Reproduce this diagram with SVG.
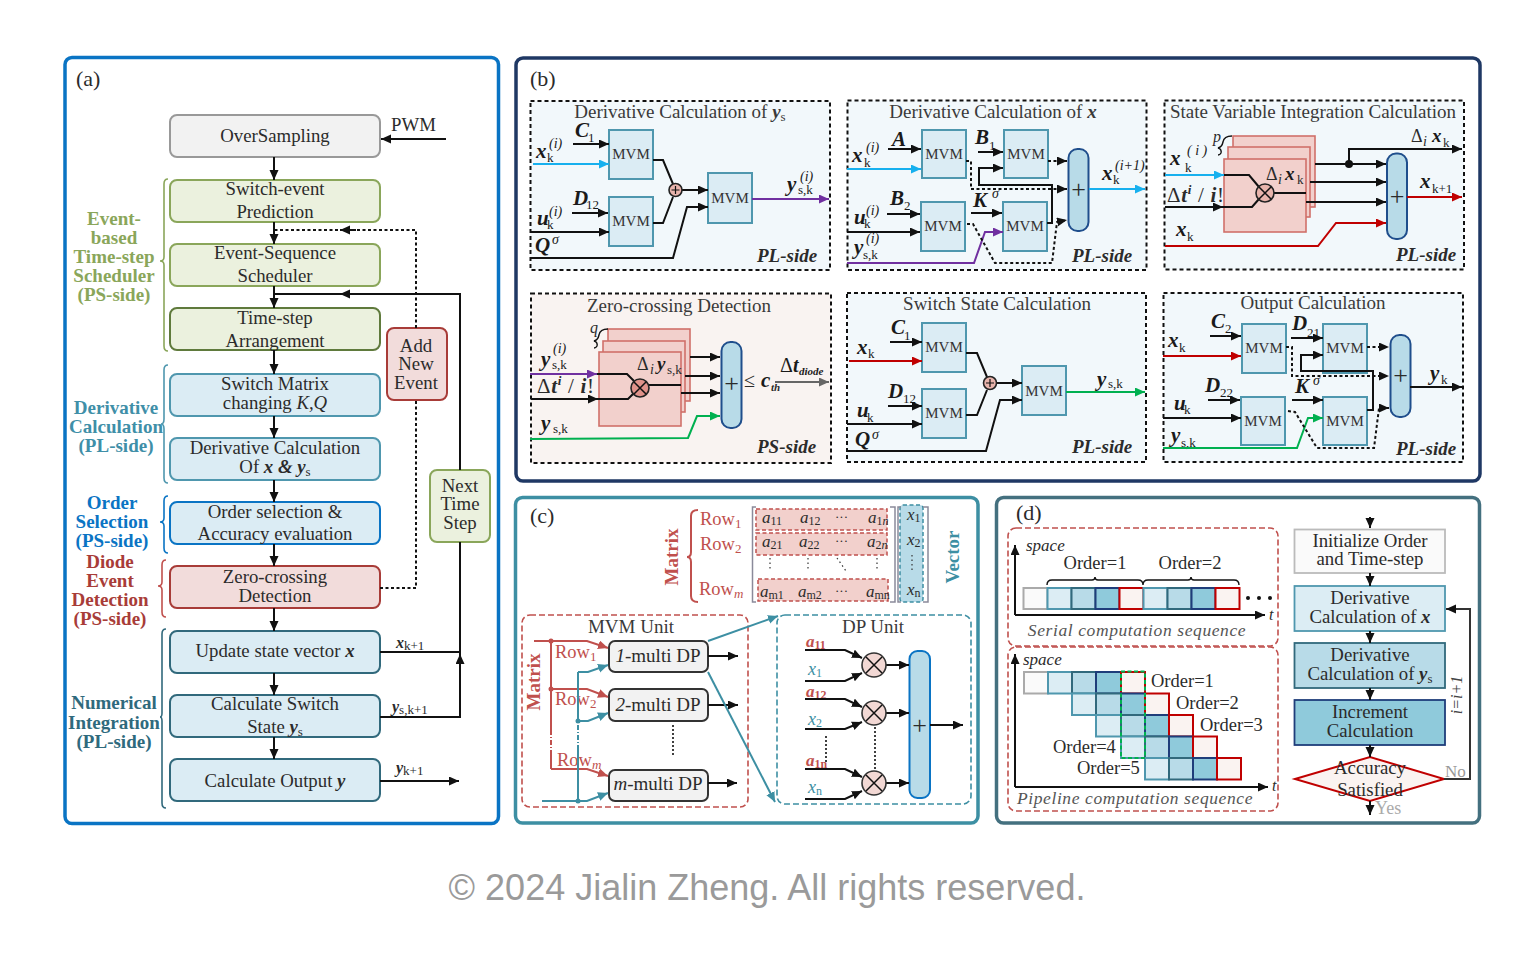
<svg xmlns="http://www.w3.org/2000/svg" width="1536" height="960" viewBox="0 0 1536 960">
<style>
text{font-family:"Liberation Serif","Times New Roman",serif;fill:#2b2b2b;font-size:18.800px}
.c{text-anchor:middle}
.bi{font-weight:bold;font-style:italic}
.i{font-style:italic}
.v{font-weight:bold;font-style:italic;font-size:21px;fill:#1a1a1a}
.s{font-weight:normal;font-style:normal;font-size:13px}
.u{font-weight:normal;font-style:italic;font-size:14px}
.sm{font-size:11px;font-weight:bold;font-style:italic}
.side{font-weight:bold;font-style:italic;font-size:19px}
.title{font-size:19px;text-anchor:middle;fill:#3a3a3a}
.mv{font-size:15px;text-anchor:middle;fill:#333}
.lab{font-weight:bold;font-size:19px;text-anchor:middle}
.plus{font-size:26px;text-anchor:middle}
.panel{fill:#fff;stroke-width:3.5}
.sub{stroke:#111;stroke-width:2;stroke-dasharray:4 3;fill:#f2f8fb}
.subr{stroke:#111;stroke-width:2;stroke-dasharray:4 3;fill:#f9f3f1}
.box{stroke-width:2}
.gr{fill:#f2f2f2;stroke:#999}
.gn{fill:#ebf1de;stroke:#8aa65a}
.gd{fill:#ebf1de;stroke:#5f7a3c}
.bl{fill:#dbecf4;stroke:#4f97ae}
.bo{fill:#dbecf4;stroke:#0a74c4}
.bn{fill:#dbecf4;stroke:#31697c}
.rd{fill:#f2dcdb;stroke:#a83c38}
.mvm{fill:#dbecf4;stroke:#4f97ae;stroke-width:2}
.pl{fill:#b8dbe8;stroke:#1f4e8c;stroke-width:2}
.st{fill:#f2d0cc;stroke:#d0706a;stroke-width:1.6}
.tn{fill:#e8b4ac;stroke:#222;stroke-width:1.6}
.k{fill:none;stroke:#111;stroke-width:2;marker-end:url(#a)}
.kn{fill:none;stroke:#111;stroke-width:2}
.dk{fill:none;stroke:#111;stroke-width:2;stroke-dasharray:3 2.5}
.dke{fill:none;stroke:#111;stroke-width:2;stroke-dasharray:3 2.5;marker-end:url(#a)}
.cy{fill:none;stroke:#17b0ee;stroke-width:2;marker-end:url(#ac)}
.pu{fill:none;stroke:#7030a0;stroke-width:2;marker-end:url(#ap)}
.re{fill:none;stroke:#c00000;stroke-width:2;marker-end:url(#ar)}
.ge{fill:none;stroke:#00b050;stroke-width:2;marker-end:url(#ag)}
.te{fill:none;stroke:#3d8fa3;stroke-width:2;marker-end:url(#at)}
.tn2{fill:none;stroke:#3d8fa3;stroke-width:2}
.sa{fill:none;stroke:#c0504d;stroke-width:2;marker-end:url(#as)}
.sn{fill:none;stroke:#c0504d;stroke-width:2}
.brace{fill:none;stroke-width:1.6}
.cl{stroke-width:2}
.c0{fill:#fafafa;stroke:#aaa}
.c1{fill:#dcedf4;stroke:#4f97ae}
.c2{fill:#b8dbe8;stroke:#31697c}
.c3{fill:#8fcadb;stroke:#1f3d7a}
.c4{fill:#faf3f1;stroke:#c00000}
.row{fill:#f2d0cc;stroke:#c0504d;stroke-width:1.5;stroke-dasharray:4 2.5}
.sl{fill:#c0504d;font-size:18.500px}
.dp{fill:#f2f2f2;stroke:#333;stroke-width:2}
.ds{fill:#f2d8d4;stroke:#333;stroke-width:1.6}
.ord{font-size:18.500px}
.m{font-style:italic;font-size:17px}
.ms{font-style:normal;font-size:12px}
.seq{font-style:italic;font-size:17.500px;fill:#555;letter-spacing:.6px;text-anchor:middle}
.dt{font-size:21px;letter-spacing:.7px}
.pn{font-size:22px}
</style>
<defs>
<marker id="a" markerUnits="userSpaceOnUse" markerWidth="11" markerHeight="10" refX="10" refY="4.5" orient="auto"><path d="M0 0L10 4.5L0 9z" fill="#111"/></marker>
<marker id="ac" markerUnits="userSpaceOnUse" markerWidth="11" markerHeight="10" refX="10" refY="4.5" orient="auto"><path d="M0 0L10 4.5L0 9z" fill="#17b0ee"/></marker>
<marker id="ap" markerUnits="userSpaceOnUse" markerWidth="11" markerHeight="10" refX="10" refY="4.5" orient="auto"><path d="M0 0L10 4.5L0 9z" fill="#7030a0"/></marker>
<marker id="ar" markerUnits="userSpaceOnUse" markerWidth="11" markerHeight="10" refX="10" refY="4.5" orient="auto"><path d="M0 0L10 4.5L0 9z" fill="#c00000"/></marker>
<marker id="ag" markerUnits="userSpaceOnUse" markerWidth="11" markerHeight="10" refX="10" refY="4.5" orient="auto"><path d="M0 0L10 4.5L0 9z" fill="#00b050"/></marker>
<marker id="at" markerUnits="userSpaceOnUse" markerWidth="11" markerHeight="10" refX="10" refY="4.5" orient="auto"><path d="M0 0L10 4.5L0 9z" fill="#3d8fa3"/></marker>
<marker id="as" markerUnits="userSpaceOnUse" markerWidth="11" markerHeight="10" refX="10" refY="4.5" orient="auto"><path d="M0 0L10 4.5L0 9z" fill="#c0504d"/></marker>
<marker id="ah" markerUnits="userSpaceOnUse" markerWidth="11" markerHeight="10" refX="10" refY="4.5" orient="auto"><path d="M0 0L10 4.5L0 9z" fill="#666"/></marker>
</defs>
<rect width="1536" height="960" fill="#fff"/>

<!-- panel frames -->
<rect class="panel" x="65" y="57.500" width="433.500" height="766" rx="7" stroke="#0a74c4"/>
<rect class="panel" x="516" y="58" width="964" height="423" rx="7" stroke="#1f3864"/>
<rect class="panel" x="515.500" y="497.500" width="462.500" height="325.500" rx="7" stroke="#3d8fa3"/>
<rect class="panel" x="996.500" y="497.500" width="483" height="325.500" rx="7" stroke="#44707f"/>
<text class="pn" x="76" y="86">(a)</text>
<text class="pn" x="530" y="86">(b)</text>
<text class="pn" x="530" y="523">(c)</text>
<text class="pn" x="1016" y="520">(d)</text>

<!-- (a) flow chart -->
<g id="a-oversampling"><rect class="box gr" x="170" y="115" width="210" height="42" rx="7"/><text class="c" x="275" y="142">OverSampling</text></g>
<g id="a-switch-event"><rect class="box gn" x="170" y="180" width="210" height="42" rx="7"/><text class="c" x="275" y="195">Switch-event</text><text class="c" x="275" y="218">Prediction</text></g>
<g id="a-scheduler"><rect class="box gn" x="170" y="244" width="210" height="42" rx="7"/><text class="c" x="275" y="259">Event-Sequence</text><text class="c" x="275" y="282">Scheduler</text></g>
<g id="a-arrangement"><rect class="box gd" x="170" y="308" width="210" height="42" rx="7"/><text class="c" x="275" y="324">Time-step</text><text class="c" x="275" y="347">Arrangement</text></g>
<g id="a-switch-matrix"><rect class="box bl" x="170" y="374" width="210" height="42" rx="7"/><text class="c" x="275" y="390">Switch Matrix</text><text class="c" x="275" y="409">changing <tspan class="i">K,Q</tspan></text></g>
<g id="a-derivative"><rect class="box bl" x="170" y="438" width="210" height="42" rx="7"/><text class="c" x="275" y="454">Derivative Calculation</text><text class="c" x="275" y="473">Of <tspan class="bi">x &amp; y</tspan><tspan class="s" dy="3" font-weight="bold">s</tspan></text></g>
<g id="a-order"><rect class="box bo" x="170" y="502" width="210" height="42" rx="7"/><text class="c" x="275" y="518">Order selection &amp;</text><text class="c" x="275" y="540">Accuracy evaluation</text></g>
<g id="a-zero"><rect class="box rd" x="170" y="566" width="210" height="42" rx="7"/><text class="c" x="275" y="583">Zero-crossing</text><text class="c" x="275" y="602">Detection</text></g>
<g id="a-update"><rect class="box bn" x="170" y="631" width="210" height="42" rx="7"/><text class="c" x="275" y="657">Update state vector <tspan class="bi">x</tspan></text></g>
<g id="a-switch-state"><rect class="box bn" x="170" y="695" width="210" height="42" rx="7"/><text class="c" x="275" y="710">Calculate Switch</text><text class="c" x="275" y="733">State <tspan class="bi">y</tspan><tspan class="s" dy="3" font-weight="bold">s</tspan></text></g>
<g id="a-output"><rect class="box bn" x="170" y="759" width="210" height="42" rx="7"/><text class="c" x="275" y="787">Calculate Output <tspan class="bi">y</tspan></text></g>
<g id="a-add-event"><rect class="box rd" x="387" y="328" width="60" height="72" rx="7"/><text class="c" x="416" y="352">Add</text><text class="c" x="416" y="370">New</text><text class="c" x="416" y="389">Event</text></g>
<g id="a-next-step"><rect class="box gn" x="430" y="470" width="60" height="72" rx="7"/><text class="c" x="460" y="492">Next</text><text class="c" x="460" y="510">Time</text><text class="c" x="460" y="529">Step</text></g>
<g id="a-groups">
<path class="brace" stroke="#8aa65a" d="M168 179Q164 179 164 184V257Q164 261 160 261Q164 261 164 265V346Q164 351 168 351"/>
<path class="brace" stroke="#4f97ae" d="M168 365Q164 365 164 370V419Q164 424 161 424Q164 424 164 429V478Q164 483 168 483"/>
<path class="brace" stroke="#0a74c4" d="M168 496Q164 496 164 501V518Q164 522 160 522Q164 522 164 526V548Q164 553 168 553"/>
<path class="brace" stroke="#c0504d" d="M166 560Q162 560 162 565V582Q162 586 158 586Q162 586 162 590V612Q162 617 166 617"/>
<path class="brace" stroke="#31697c" d="M166 629Q162 629 162 634V713Q162 717 160 717Q162 717 162 721V803Q162 808 166 808"/>
<text class="lab" x="114" y="225" style="fill:#8aa65a">Event-</text><text class="lab" x="114" y="244" style="fill:#8aa65a">based</text><text class="lab" x="114" y="263" style="fill:#8aa65a">Time-step</text><text class="lab" x="114" y="282" style="fill:#8aa65a">Scheduler</text><text class="lab" x="114" y="301" style="fill:#8aa65a">(PS-side)</text>
<text class="lab" x="116" y="414" style="fill:#3f8fa8">Derivative</text><text class="lab" x="116" y="433" style="fill:#3f8fa8">Calculation</text><text class="lab" x="116" y="452" style="fill:#3f8fa8">(PL-side)</text>
<text class="lab" x="112" y="509" style="fill:#0a74c4">Order</text><text class="lab" x="112" y="528" style="fill:#0a74c4">Selection</text><text class="lab" x="112" y="547" style="fill:#0a74c4">(PS-side)</text>
<text class="lab" x="110" y="568" style="fill:#a83c38">Diode</text><text class="lab" x="110" y="587" style="fill:#a83c38">Event</text><text class="lab" x="110" y="606" style="fill:#a83c38">Detection</text><text class="lab" x="110" y="625" style="fill:#a83c38">(PS-side)</text>
<text class="lab" x="114" y="709" style="fill:#2f6a7d">Numerical</text><text class="lab" x="114" y="729" style="fill:#2f6a7d">Integration</text><text class="lab" x="114" y="748" style="fill:#2f6a7d">(PL-side)</text>
<text x="391" y="131">PWM</text>
<text x="396" y="648" class="bi" style="font-size:16px">x<tspan class="s" dy="2">k+1</tspan></text>
<text x="392" y="712" class="bi" style="font-size:16px">y<tspan class="s" dy="2">s,k+1</tspan></text>
<text x="396" y="773" class="bi" style="font-size:16px">y<tspan class="s" dy="2">k+1</tspan></text>
</g>

<!-- (b) sub-panels -->
<g id="b-deriv-ys">
<rect class="sub" x="530.500" y="101" width="299.500" height="169"/>
<text class="title" x="680" y="118">Derivative Calculation of <tspan class="bi">y</tspan><tspan class="s" dy="3" font-weight="bold">s</tspan></text>
<rect class="mvm" x="609" y="130" width="44" height="49"/><text class="mv" x="631" y="159">MVM</text>
<rect class="mvm" x="609" y="197" width="44" height="49"/><text class="mv" x="631" y="226">MVM</text>
<rect class="mvm" x="708" y="173" width="44" height="50"/><text class="mv" x="730" y="203">MVM</text>
<text class="side" x="757" y="262">PL-side</text>
<text class="v" x="575" y="137">C<tspan class="s" x="588" y="142">1</tspan></text>
<text class="v" x="536" y="158">x<tspan class="s" x="547" y="162">k</tspan><tspan class="u" x="549" y="148">(i)</tspan></text>
<text class="v" x="573" y="205">D<tspan class="s" x="586" y="209">12</tspan></text>
<text class="v" x="537" y="225">u<tspan class="s" x="547" y="229">k</tspan><tspan class="u" x="549" y="216">(i)</tspan></text>
<text class="v" x="535" y="252">Q<tspan class="u" x="552" y="244">σ</tspan></text>
<text class="v" x="787" y="191">y<tspan class="s" x="798" y="194">s,k</tspan><tspan class="u" x="800" y="181">(i)</tspan></text>
</g>
<g id="b-deriv-x">
<rect class="sub" x="847.500" y="100.500" width="299" height="169.500"/>
<text class="title" x="993" y="118">Derivative Calculation of <tspan class="bi">x</tspan></text>
<rect class="mvm" x="922" y="130" width="44" height="48"/><text class="mv" x="944" y="159">MVM</text>
<rect class="mvm" x="1004" y="130" width="44" height="48"/><text class="mv" x="1026" y="159">MVM</text>
<rect class="mvm" x="921" y="202" width="44" height="49"/><text class="mv" x="943" y="231">MVM</text>
<rect class="mvm" x="1003" y="202" width="44" height="49"/><text class="mv" x="1025" y="231">MVM</text>
<rect class="pl" x="1068.500" y="149" width="20" height="82" rx="9"/><text class="plus" x="1078.500" y="198">+</text>
<text class="side" x="1072" y="262">PL-side</text>
<text class="v" x="852" y="162">x<tspan class="s" x="864" y="167">k</tspan><tspan class="u" x="866" y="152">(i)</tspan></text>
<text class="v" x="892" y="146">A</text>
<text class="v" x="975" y="144">B<tspan class="s" x="989" y="150">1</tspan></text>
<text class="v" x="890" y="205">B<tspan class="s" x="904" y="210">2</tspan></text>
<text class="v" x="854" y="224">u<tspan class="s" x="864" y="228">k</tspan><tspan class="u" x="866" y="215">(i)</tspan></text>
<text class="v" x="854" y="254">y<tspan class="s" x="863" y="259">s,k</tspan><tspan class="u" x="866" y="243">(i)</tspan></text>
<text class="v" x="973" y="207">K<tspan class="u" x="992" y="198">σ</tspan></text>
<text class="v" x="1102" y="180">x<tspan class="s" x="1113" y="184">k</tspan><tspan class="u" x="1115" y="170">(i+1)</tspan></text>
</g>
<g id="b-integration">
<rect class="sub" x="1164.500" y="100.500" width="299.500" height="169"/>
<text class="title" x="1313" y="118">State Variable Integration Calculation</text>
<rect class="st" x="1233" y="136" width="82" height="71"/><rect class="st" x="1228" y="147" width="82" height="70"/><rect class="st" x="1224" y="159" width="82" height="73"/>
<path class="kn" style="stroke-width:1.4" d="M1232 136Q1224 136 1223 142Q1222 147 1218 148Q1222 149 1221 153Q1220 155 1218 155"/>
<text class="i" x="1213" y="142" style="font-size:16px">p</text>
<rect class="pl" x="1387" y="153.500" width="20" height="85.500" rx="9"/><text class="plus" x="1397" y="205">+</text>
<text class="side" x="1396" y="261">PL-side</text>
<text class="v" x="1170" y="165">x<tspan class="s" x="1185" y="172">k</tspan><tspan class="u" x="1187" y="155">( i )</tspan></text>
<text class="dt" x="1167" y="202">Δ<tspan class="bi">t</tspan><tspan class="bi" style="font-size:13px" dy="-8">i</tspan><tspan dy="8"> / </tspan><tspan class="bi">i</tspan>!</text>
<text x="1266" y="180" style="font-size:18px">Δ<tspan class="u" x="1278" y="184">i</tspan><tspan class="v" style="font-size:19px" x="1285" y="180">x</tspan><tspan class="s" x="1297" y="184">k</tspan></text>
<text x="1411" y="142" style="font-size:18px">Δ<tspan class="u" x="1423" y="146">i</tspan><tspan class="v" style="font-size:19px" x="1432" y="142">x</tspan><tspan class="s" x="1443" y="147">k</tspan></text>
<text class="v" x="1420" y="188">x<tspan class="s" x="1432" y="193">k+1</tspan></text>
<text class="v" x="1176" y="236">x<tspan class="s" x="1187" y="241">k</tspan></text>
</g>
<g id="b-zero">
<rect class="subr" x="531" y="293.500" width="300" height="169.500"/>
<text class="title" x="679" y="312">Zero-crossing Detection</text>
<rect class="st" x="608" y="329" width="82" height="72"/><rect class="st" x="603" y="341" width="82" height="71"/><rect class="st" x="599" y="352" width="82" height="74"/>
<path class="kn" style="stroke-width:1.4" d="M608 329Q600 329 599 335Q598 340 594 341Q598 342 597 346Q596 348 594 348"/>
<text class="i" x="590" y="333" style="font-size:16px">q</text>
<rect class="pl" x="721.500" y="342" width="20" height="86" rx="9"/><text class="plus" x="731.500" y="392">+</text>
<text class="side" x="757" y="453">PS-side</text>
<text class="v" x="541" y="366">y<tspan class="s" x="552" y="369">s,k</tspan><tspan class="u" x="553" y="353">(i)</tspan></text>
<text class="dt" x="537" y="393">Δ<tspan class="bi">t</tspan><tspan class="bi" style="font-size:13px" dy="-8">i</tspan><tspan dy="8"> / </tspan><tspan class="bi">i</tspan>!</text>
<text x="637" y="370" style="font-size:18px">Δ<tspan class="u" x="650" y="374">i</tspan><tspan class="v" style="font-size:19px" x="657" y="370">y</tspan><tspan class="s" x="667" y="374">s,k</tspan></text>
<text class="v" x="541" y="430">y<tspan class="s" x="553" y="433">s,k</tspan></text>
<text x="744" y="387" style="font-size:20px">≤<tspan class="v" x="761" y="387">c</tspan><tspan class="s" x="771" y="391" style="font-weight:bold;font-style:italic;font-size:11px">th</tspan></text>
<text class="v" x="780" y="372" style="font-size:20px"><tspan style="font-weight:normal;font-style:normal">Δ</tspan>t<tspan class="sm" x="799" y="375">diode</tspan></text>
</g>
<g id="b-switch-state">
<rect class="sub" x="847" y="293" width="299" height="169"/>
<text class="title" x="997" y="310">Switch State Calculation</text>
<rect class="mvm" x="922" y="323" width="44" height="49"/><text class="mv" x="944" y="352">MVM</text>
<rect class="mvm" x="922" y="389" width="44" height="49"/><text class="mv" x="944" y="418">MVM</text>
<rect class="mvm" x="1022" y="366" width="44" height="49"/><text class="mv" x="1044" y="396">MVM</text>
<text class="side" x="1072" y="453">PL-side</text>
<text class="v" x="891" y="334">C<tspan class="s" x="904" y="340">1</tspan></text>
<text class="v" x="857" y="354">x<tspan class="s" x="868" y="358">k</tspan></text>
<text class="v" x="888" y="398">D<tspan class="s" x="903" y="403">12</tspan></text>
<text class="v" x="857" y="417">u<tspan class="s" x="867" y="422">k</tspan></text>
<text class="v" x="855" y="446">Q<tspan class="u" x="872" y="439">σ</tspan></text>
<text class="v" x="1097" y="386">y<tspan class="s" x="1108" y="388">s,k</tspan></text>
</g>
<g id="b-output">
<rect class="sub" x="1163.500" y="293" width="299.500" height="169"/>
<text class="title" x="1313" y="309">Output Calculation</text>
<rect class="mvm" x="1242" y="324" width="44" height="49"/><text class="mv" x="1264" y="353">MVM</text>
<rect class="mvm" x="1323" y="324" width="44" height="49"/><text class="mv" x="1345" y="353">MVM</text>
<rect class="mvm" x="1241" y="397" width="44" height="48"/><text class="mv" x="1263" y="426">MVM</text>
<rect class="mvm" x="1323" y="397" width="44" height="48"/><text class="mv" x="1345" y="426">MVM</text>
<rect class="pl" x="1390.500" y="335" width="20" height="82" rx="9"/><text class="plus" x="1400.500" y="384">+</text>
<text class="side" x="1396" y="455">PL-side</text>
<text class="v" x="1211" y="328">C<tspan class="s" x="1225" y="333">2</tspan></text>
<text class="v" x="1168" y="347">x<tspan class="s" x="1179" y="352">k</tspan></text>
<text class="v" x="1292" y="330">D<tspan class="s" x="1307" y="337">21</tspan></text>
<text class="v" x="1205" y="392">D<tspan class="s" x="1220" y="397">22</tspan></text>
<text class="v" x="1174" y="410">u<tspan class="s" x="1184" y="414">k</tspan></text>
<text class="v" x="1295" y="393">K<tspan class="u" x="1313" y="385">σ</tspan></text>
<text class="v" x="1171" y="442">y<tspan class="s" x="1181" y="447">s,k</tspan></text>
<text class="v" x="1430" y="380">y<tspan class="s" x="1441" y="384">k</tspan></text>
</g>

<!-- (c) matrix and vector -->
<g id="c-matrix">
<rect class="row" x="756" y="509" width="131" height="21"/>
<rect class="row" x="756" y="533" width="131" height="22"/>
<rect class="row" x="758" y="579" width="130" height="22"/>
<path fill="none" stroke="#8a8a9a" stroke-width="1.5" d="M756 507H752.500V602H756M890 507H895V602H890"/>
<path class="brace" stroke="#c0504d" style="stroke-width:2" d="M698 510Q691 510 691 516V552Q691 557 687 557Q691 557 691 562V596Q691 602 698 602"/>
<text class="sl" x="700" y="525">Row<tspan class="s" dy="3">1</tspan></text>
<text class="sl" x="700" y="550">Row<tspan class="s" dy="3">2</tspan></text>
<text class="sl" x="699" y="595">Row<tspan class="s" dy="3" style="font-style:italic">m</tspan></text>
<text class="lab" transform="translate(678 557) rotate(-90)" style="fill:#c0504d">Matrix</text>
<text class="m" x="762" y="523">a<tspan class="ms" dy="2">11</tspan></text>
<text class="m" x="800" y="523">a<tspan class="ms" dy="2">12</tspan></text>
<text x="835" y="521" style="font-size:13px">···</text>
<text class="m" x="868" y="523">a<tspan class="ms" dy="2">1<tspan class="i">n</tspan></tspan></text>
<text class="m" x="762" y="547">a<tspan class="ms" dy="2">21</tspan></text>
<text class="m" x="799" y="547">a<tspan class="ms" dy="2">22</tspan></text>
<text x="835" y="545" style="font-size:13px">···</text>
<text class="m" x="867" y="547">a<tspan class="ms" dy="2">2<tspan class="i">n</tspan></tspan></text>
<text class="m" x="760" y="597">a<tspan class="ms" dy="2">m1</tspan></text>
<text class="m" x="798" y="597">a<tspan class="ms" dy="2">m2</tspan></text>
<text x="835" y="595" style="font-size:13px">···</text>
<text class="m" x="866" y="597">a<tspan class="ms" dy="2">mn</tspan></text>
<path fill="none" stroke="#333" stroke-width="1.2" stroke-dasharray="1.5 3" d="M770 558V571M808 558V571M877 558V571M837 558L846 571"/>
</g>
<g id="c-vector">
<rect x="900" y="505" width="23" height="97" rx="3" fill="#b8dbe8" stroke="#3d8fa3" stroke-width="1.5" stroke-dasharray="4 2.500"/>
<path fill="none" stroke="#8a8a9a" stroke-width="1.5" d="M901 507H898V602H901M923 507H928V602H923"/>
<text class="m" x="907" y="520">x<tspan class="ms" dy="2">1</tspan></text>
<text class="m" x="907" y="545">x<tspan class="ms" dy="2">2</tspan></text>
<text class="m" x="907" y="595">x<tspan class="ms" dy="2">n</tspan></text>
<path fill="none" stroke="#333" stroke-width="1.2" stroke-dasharray="1.5 3" d="M912 555V571"/>
<text class="lab" transform="translate(959 557) rotate(-90)" style="fill:#3d8fa3">Vector</text>
</g>
<g id="c-mvm-unit">
<rect x="522" y="615" width="226" height="192" rx="8" fill="none" stroke="#c0504d" stroke-width="1.6" stroke-dasharray="6 3"/>
<text class="title" x="631" y="633">MVM Unit</text>
<text class="lab" transform="translate(540 682) rotate(-90)" style="fill:#c0504d">Matrix</text>
<rect class="dp" x="609" y="641" width="99" height="31" rx="6"/><text class="c" x="658" y="662" style="font-size:19px"><tspan class="i">1</tspan>-multi DP</text>
<rect class="dp" x="609" y="689" width="99" height="32" rx="6"/><text class="c" x="658" y="711" style="font-size:19px"><tspan class="i">2</tspan>-multi DP</text>
<rect class="dp" x="609" y="770" width="99" height="31" rx="6"/><text class="c" x="658" y="790" style="font-size:19px"><tspan class="i">m</tspan>-multi DP</text>
<text class="sl" x="555" y="658">Row<tspan class="s" dy="3">1</tspan></text>
<text class="sl" x="555" y="705">Row<tspan class="s" dy="3">2</tspan></text>
<text class="sl" x="557" y="766">Row<tspan class="s" dy="3" style="font-style:italic">m</tspan></text>
</g>
<g id="c-dp-unit">
<rect x="777" y="615" width="194" height="189" rx="8" fill="none" stroke="#3d8fa3" stroke-width="1.6" stroke-dasharray="6 3"/>
<text class="title" x="873" y="633">DP Unit</text>
<text class="bi" x="806" y="647" style="fill:#c0504d;font-size:17px">a<tspan class="s" dy="2" style="font-size:12px;font-weight:bold">11</tspan></text>
<text class="i" x="808" y="675" style="fill:#3d8fa3;font-size:18px">x<tspan class="s" dy="2" style="font-size:12px">1</tspan></text>
<text class="bi" x="806" y="697" style="fill:#c0504d;font-size:17px">a<tspan class="s" dy="2" style="font-size:12px;font-weight:bold">12</tspan></text>
<text class="i" x="808" y="725" style="fill:#3d8fa3;font-size:18px">x<tspan class="s" dy="2" style="font-size:12px">2</tspan></text>
<text class="bi" x="806" y="766" style="fill:#c0504d;font-size:17px">a<tspan class="s" dy="2" style="font-size:12px;font-weight:bold">1n</tspan></text>
<text class="i" x="808" y="793" style="fill:#3d8fa3;font-size:18px">x<tspan class="s" dy="2" style="font-size:12px">n</tspan></text>
<rect x="909.500" y="651" width="20.500" height="147" rx="8" fill="#b8dbe8" stroke="#0a74c4" stroke-width="2"/>
<text class="plus" x="919.500" y="734">+</text>
</g>

<!-- (d) computation sequences -->
<g id="d-serial">
<rect x="1008" y="528" width="270" height="118" rx="8" fill="none" stroke="#c0504d" stroke-width="1.6" stroke-dasharray="6 3"/>
<text class="i" x="1026" y="551" style="font-size:17px">space</text>
<rect class="cl c0" x="1023.500" y="588" width="24" height="21"/><rect class="cl c1" x="1047.500" y="588" width="24" height="21"/><rect class="cl c2" x="1071.500" y="588" width="24" height="21"/><rect class="cl c3" x="1095.500" y="588" width="24" height="21"/><rect class="cl c4" x="1119.500" y="588" width="24" height="21"/><rect class="cl c1" x="1143.500" y="588" width="24" height="21"/><rect class="cl c2" x="1167.500" y="588" width="24" height="21"/><rect class="cl c3" x="1191.500" y="588" width="24" height="21"/><rect class="cl c4" x="1215.500" y="588" width="24" height="21"/>
<path class="kn" style="stroke-width:1.4" d="M1047 585Q1047 580 1052 580H1092Q1095 580 1095 577Q1095 580 1098 580H1138Q1143 580 1143 585Q1143 580 1148 580H1188Q1191 580 1191 577Q1191 580 1194 580H1234Q1239 580 1239 585"/>
<text class="c ord" x="1095" y="569">Order=1</text>
<text class="c ord" x="1190" y="569">Order=2</text>
<circle cx="1248" cy="598" r="2" fill="#111"/><circle cx="1259" cy="598" r="2" fill="#111"/><circle cx="1270" cy="598" r="2" fill="#111"/>
<text class="i" x="1269" y="620" style="font-size:16px">t</text>
<text class="seq" x="1137" y="636">Serial computation sequence</text>
</g>
<g id="d-pipeline">
<rect x="1008" y="647" width="270" height="164" rx="8" fill="none" stroke="#c0504d" stroke-width="1.6" stroke-dasharray="6 3"/>
<text class="i" x="1023" y="665" style="font-size:17px">space</text>
<rect class="cl c0" x="1024" y="672" width="24" height="21.500"/><rect class="cl c1" x="1048" y="672" width="24" height="21.500"/><rect class="cl c2" x="1072" y="672" width="24" height="21.500"/><rect class="cl c3" x="1096" y="672" width="25" height="21.500"/><rect class="cl c4" x="1121" y="672" width="24" height="21.500"/>
<rect class="cl c1" x="1072" y="693.500" width="24" height="21.500"/><rect class="cl c2" x="1096" y="693.500" width="25" height="21.500"/><rect class="cl c3" x="1121" y="693.500" width="24" height="21.500"/><rect class="cl c4" x="1145" y="693.500" width="24" height="21.500"/>
<rect class="cl c1" x="1096" y="715" width="25" height="21.500"/><rect class="cl c2" x="1121" y="715" width="24" height="21.500"/><rect class="cl c3" x="1145" y="715" width="24" height="21.500"/><rect class="cl c4" x="1169" y="715" width="24" height="21.500"/>
<rect class="cl c1" x="1121" y="736.500" width="24" height="21.500"/><rect class="cl c2" x="1145" y="736.500" width="24" height="21.500"/><rect class="cl c3" x="1169" y="736.500" width="24" height="21.500"/><rect class="cl c4" x="1193" y="736.500" width="24" height="21.500"/>
<rect class="cl c1" x="1145" y="758" width="24" height="21.500"/><rect class="cl c2" x="1169" y="758" width="24" height="21.500"/><rect class="cl c3" x="1193" y="758" width="24" height="21.500"/><rect class="cl c4" x="1217" y="758" width="24" height="21.500"/>
<rect x="1121" y="671.500" width="24" height="86.500" fill="none" stroke="#00b050" stroke-width="2" stroke-dasharray="4 2.500"/>
<text class="ord" x="1151" y="687">Order=1</text>
<text class="ord" x="1176" y="709">Order=2</text>
<text class="ord" x="1200" y="731">Order=3</text>
<text class="ord" x="1053" y="753">Order=4</text>
<text class="ord" x="1077" y="774">Order=5</text>
<text class="i" x="1272" y="791" style="font-size:16px">t</text>
<text class="seq" x="1135" y="804">Pipeline computation sequence</text>
</g>
<g id="d-init"><rect x="1294.500" y="529.500" width="150.500" height="43.500" fill="#fafafa" stroke="#bbb" stroke-width="1.800"/><text class="c" x="1370" y="547">Initialize Order</text><text class="c" x="1370" y="565">and Time-step</text></g>
<g id="d-deriv-x"><rect x="1294.500" y="586" width="150.500" height="45" fill="#dcedf4" stroke="#4f97ae" stroke-width="1.800"/><text class="c" x="1370" y="604">Derivative</text><text class="c" x="1370" y="623">Calculation of <tspan class="bi">x</tspan></text></g>
<g id="d-deriv-y"><rect x="1294.500" y="643" width="150.500" height="45" fill="#b8dbe8" stroke="#31697c" stroke-width="1.800"/><text class="c" x="1370" y="661">Derivative</text><text class="c" x="1370" y="680">Calculation of <tspan class="bi">y</tspan><tspan class="s" dy="3" font-weight="bold">s</tspan></text></g>
<g id="d-increment"><rect x="1294.500" y="700" width="150.500" height="45" fill="#8fcadb" stroke="#1f3d7a" stroke-width="1.800"/><text class="c" x="1370" y="718">Increment</text><text class="c" x="1370" y="737">Calculation</text></g>
<g id="d-accuracy"><path d="M1295 779L1370 757L1444 779L1370 801Z" fill="#faf3f1" stroke="#c00000" stroke-width="2"/><text class="c" x="1370" y="774">Accuracy</text><text class="c" x="1370" y="796">Satisfied</text></g>

<!-- wires -->
<g id="connectors">
<g id="wires-a">
<path class="k" d="M274 157V180"/><path class="k" d="M274 222V244"/><path class="k" d="M274 286V308"/><path class="k" d="M274 350V374"/><path class="k" d="M274 416V438"/><path class="k" d="M274 480V502"/><path class="k" d="M274 544V566"/><path class="k" d="M274 608V631"/><path class="k" d="M274 673V695"/><path class="k" d="M274 737V759"/>
<path class="k" d="M446 139H381"/>
<path class="dk" d="M380 588H416V400M416 328V230H274"/>
<path class="k" d="M356 230H340"/>
<path class="kn" d="M460 470V294H274"/>
<path class="k" d="M356 294H340"/>
<path class="kn" d="M460 542V717H380M380 652H460"/>
<path class="k" d="M460 670V654"/>
<path class="k" d="M380 781H459"/>
</g>
<g id="wires-b1">
<path class="k" d="M573 144H609"/><path class="cy" d="M533 164H609"/><path class="k" d="M572 213H608"/><path class="k" d="M530 232H609"/>
<path class="k" d="M530 258H673L687 207H708"/>
<path class="kn" d="M653 160H663L673 184M653 223H663L673 197"/>
<path class="k" d="M681 190H708"/>
<path class="pu" d="M752 199H829"/>
<circle class="tn" cx="675.500" cy="190" r="6.500"/><path class="kn" style="stroke-width:1.200" d="M671.500 190H679.500M675.500 186V194"/>
</g>
<g id="wires-b2">
<path class="k" d="M888 149H921"/><path class="cy" d="M847 169H921"/><path class="k" d="M887 214H920"/><path class="k" d="M847 232H920"/>
<path class="pu" d="M847 263H974L985 232H1003"/>
<path class="k" d="M978 152H1003"/><path class="k" d="M971 213H1002"/>
<path class="k" d="M1047 223H1052V185H979V168H1003"/>
<path class="dke" d="M1048 161H1067"/>
<path class="dke" d="M966 161H971V189H1067"/>
<path class="dke" d="M967 224H973L995 263H1052L1057 222L1067 220"/>
<path class="cy" d="M1089 189H1145"/>
</g>
<g id="wires-b3">
<path class="cy" d="M1165 175H1224"/>
<path class="k" d="M1165 207H1223"/>
<path class="kn" d="M1224 175H1249L1259 187M1223 207H1252L1259 199M1274 193H1306"/>
<circle class="tn" cx="1265" cy="193" r="9"/><path class="kn" style="stroke-width:1.500" d="M1259 187L1271 199M1271 187L1259 199"/>
<path class="k" d="M1315 164H1386"/><path class="k" d="M1310 182H1386"/><path class="k" d="M1306 202H1386"/>
<circle cx="1349" cy="164" r="4" fill="#111"/>
<path class="k" d="M1349 164V149H1462"/>
<path class="re" d="M1165 246H1318L1336 223H1386"/>
<path class="re" d="M1407 197H1462"/>
</g>
<g id="wires-b4">
<path class="pu" d="M530 374H597"/>
<path class="k" d="M531 399H598"/>
<path class="kn" d="M597 374H627L634 381M598 399H628L634 393M649 385H681"/>
<circle class="tn" cx="640" cy="388" r="9" style="fill:#e0928a"/><path class="kn" style="stroke-width:1.500" d="M634 382L646 394M646 382L634 394"/>
<path class="k" d="M690 357H720"/><path class="k" d="M685 376H720"/><path class="k" d="M681 393H720"/>
<path class="ge" d="M530 439L688 438L697 416H720"/>
<path d="M775 382H829" fill="none" stroke="#666" stroke-width="2" marker-end="url(#ah)"/>
</g>
<g id="wires-b5">
<path class="k" d="M890 342H922"/><path class="re" d="M849 361H922"/><path class="k" d="M888 406H922"/><path class="k" d="M847 424H922"/>
<path class="k" d="M847 451H986L1000 400H1022"/>
<path class="kn" d="M966 353H977L987 377M966 415H977L987 390"/>
<path class="k" d="M996 383H1022"/>
<path class="ge" d="M1066 392H1145"/>
<circle class="tn" cx="990" cy="383" r="6.500"/><path class="kn" style="stroke-width:1.200" d="M986 383H994M990 379V387"/>
</g>
<g id="wires-b6">
<path class="k" d="M1210 336H1241"/><path class="re" d="M1163 356H1241"/><path class="k" d="M1291 338H1323"/>
<path class="k" d="M1367 410H1373V371H1301V355H1323"/>
<path class="dke" d="M1367 347H1389"/>
<path class="dke" d="M1286 347H1292V376H1389"/>
<path class="k" d="M1208 400H1240"/><path class="k" d="M1163 418H1241"/><path class="k" d="M1292 400H1323"/>
<path class="ge" d="M1163 448H1297L1308 418H1323"/>
<path class="dke" d="M1288 411L1295 412L1317 448H1374L1379 408L1389 408"/>
<path class="k" d="M1410 387H1462"/>
</g>
<g id="wires-c">
<path class="k" d="M708 656H738"/><path class="k" d="M708 705H738"/><path class="k" d="M708 783H737"/>
<path fill="none" stroke="#111" stroke-width="1.600" stroke-dasharray="2 2" d="M673 725V757"/>
<path class="sn" d="M534 641H551M551 641V730M551 750V769"/>
<path class="sn" style="stroke-dasharray:5 2 1 2" d="M551 730V750"/>
<path class="sa" d="M551 641H587L608 648"/><path class="sa" d="M551 689H587L608 697"/><path class="sa" d="M551 769H587L608 776"/>
<circle cx="551" cy="641" r="2.500" fill="#c0504d"/><circle cx="551" cy="689" r="2.500" fill="#c0504d"/>
<path class="tn2" d="M578 801V750M578 721V672"/>
<path class="tn2" style="stroke-dasharray:5 2 1 2" d="M578 750V721"/>
<path class="te" d="M578 672H588L608 665"/><path class="te" d="M578 721H588L608 713"/><path class="te" d="M542 801H587L608 793"/>
<circle cx="578" cy="721" r="2.500" fill="#3d8fa3"/><circle cx="578" cy="801" r="2.500" fill="#3d8fa3"/>
<path class="te" d="M708 641L778 616"/>
<path class="te" d="M708 672L775 802"/>
<path class="k" d="M805 650H845L862 658"/><path class="k" d="M805 681H845L862 673"/>
<path class="k" d="M805 699H845L862 707"/><path class="k" d="M805 729H845L862 722"/>
<path class="k" d="M805 769H845L862 777"/><path class="k" d="M805 799H845L862 791"/>
<path class="k" d="M886 665H909"/><path class="k" d="M886 713H909"/><path class="k" d="M886 783H909"/>
<path class="k" d="M930 725H963"/>
<path fill="none" stroke="#111" stroke-width="1.600" stroke-dasharray="2 2" d="M875 727V770M826 736V762"/>
<g id="dp-multipliers">
<circle class="ds" cx="874" cy="665" r="12"/><path class="kn" style="stroke-width:1.500" d="M866 657L882 673M882 657L866 673"/>
<circle class="ds" cx="874" cy="713" r="12"/><path class="kn" style="stroke-width:1.500" d="M866 705L882 721M882 705L866 721"/>
<circle class="ds" cx="874" cy="783" r="12"/><path class="kn" style="stroke-width:1.500" d="M866 775L882 791M882 775L866 791"/>
</g>
</g>
<g id="wires-d">
<path class="k" d="M1015 615V545"/><path class="k" d="M1015 615H1265"/>
<path class="k" d="M1015 787V654"/><path class="k" d="M1015 787H1268"/>
<path class="k" d="M1370 517V528"/><path class="k" d="M1370 573V586"/><path class="k" d="M1370 631V643"/><path class="k" d="M1370 688V700"/><path class="k" d="M1370 745V757"/><path class="k" d="M1370 801V815"/>
<path d="M1444 779H1470V609H1446" fill="none" stroke="#333" stroke-width="2" marker-end="url(#a)"/>
<text class="i" transform="translate(1462 695) rotate(-90)" style="font-size:16px;text-anchor:middle;fill:#444">i=i+1</text>
<text x="1445" y="777" style="fill:#999;font-size:17px">No</text>
<text x="1375" y="814" style="fill:#aaa;font-size:18px">Yes</text>
</g>
</g>

<text x="767" y="900" class="c" style="font-family:'Liberation Sans',Arial,sans-serif;font-size:36px;fill:#9a9a9a">© 2024 Jialin Zheng. All rights reserved.</text>
</svg>
